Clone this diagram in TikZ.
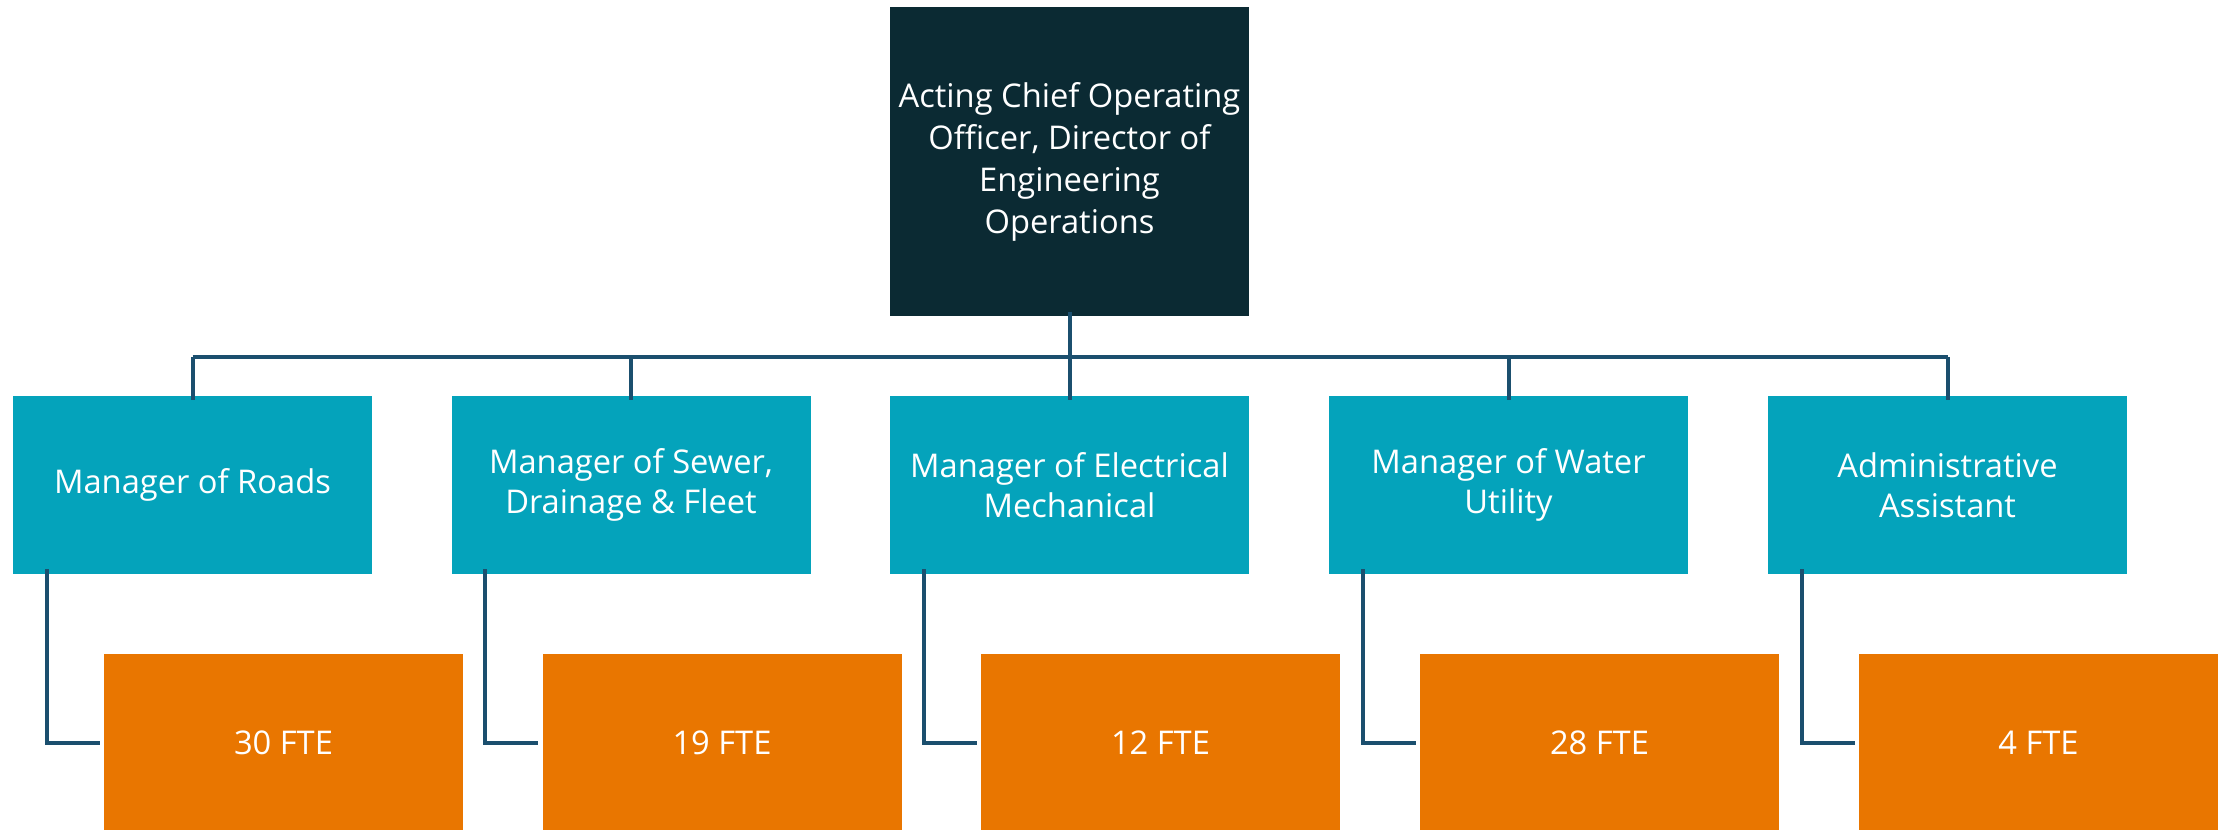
\documentclass[tikz,border=0pt]{standalone}
\usepackage{fontspec}
\setmainfont{Open Sans}
\definecolor{chiefnavy}{HTML}{0B2A33}
\definecolor{mgrteal}{HTML}{04A3BB}
\definecolor{fteorange}{HTML}{E97600}
\definecolor{linkblue}{HTML}{1B4F6E}
\tikzset{
  chief/.style={rectangle, fill=chiefnavy, text=white, inner sep=0pt, align=center,
    minimum width=269.25pt, minimum height=231.75pt, font=\fontsize{24.5}{31.5}\selectfont},
  manager/.style={rectangle, fill=mgrteal, text=white, inner sep=0pt, align=center,
    minimum width=269.25pt, minimum height=133.5pt, font=\fontsize{24.5}{30}\selectfont},
  fte/.style={rectangle, fill=fteorange, text=white, inner sep=0pt, align=center,
    minimum width=269.25pt, minimum height=133.5pt, font=\fontsize{24.5}{30}\selectfont},
  link/.style={draw=linkblue, line width=3pt},
}
\begin{document}
\begin{tikzpicture}[x=0.75pt,y=0.75pt,yscale=-1]
\useasboundingbox (0,0) rectangle (2224,829);

%Shape: Rectangle [chief]
\node[chief] (coo) at (1069.5,161.5) {Acting Chief Operating\\Officer, Director of\\Engineering\\Operations};

%Shape: Rectangle [managers]
\node[manager] (roads) at (192.5,485) {Manager of Roads};
\node[manager] (sewer) at (631,485) {Manager of Sewer,\\Drainage \& Fleet};
\node[manager] (elec) at (1069.5,485) {Manager of Electrical\\Mechanical};
\node[manager] (water) at (1508.5,485) {Manager of Water\\Utility};
\node[manager] (admin) at (1947.5,485) {Administrative\\Assistant};

%Shape: Rectangle [staff]
\node[fte] (roadsfte) at (283.5,743) {30 FTE};
\node[fte] (sewerfte) at (722,743) {19 FTE};
\node[fte] (elecfte) at (1160.5,743) {12 FTE};
\node[fte] (waterfte) at (1599.5,743) {28 FTE};
\node[fte] (adminfte) at (2038.5,743) {4 FTE};

%Straight Lines [bus]
\coordinate (bus) at (1069.5,357);
\draw[link] ([yshift=-3pt]coo.south) -- ([yshift=3pt]elec.north);
\draw[link] (roads.north |- bus) -- (admin.north |- bus);
\draw[link] (roads.north |- bus) -- ([yshift=3pt]roads.north);
\draw[link] (sewer.north |- bus) -- ([yshift=3pt]sewer.north);
\draw[link] (water.north |- bus) -- ([yshift=3pt]water.north);
\draw[link] (admin.north |- bus) -- ([yshift=3pt]admin.north);

%Straight Lines [elbows]
\draw[link, shorten >=3pt] ([xshift=25.5pt,yshift=-3.75pt]roads.south west) |- (roadsfte.west);
\draw[link, shorten >=3pt] ([xshift=25.5pt,yshift=-3.75pt]sewer.south west) |- (sewerfte.west);
\draw[link, shorten >=3pt] ([xshift=25.5pt,yshift=-3.75pt]elec.south west) |- (elecfte.west);
\draw[link, shorten >=3pt] ([xshift=25.5pt,yshift=-3.75pt]water.south west) |- (waterfte.west);
\draw[link, shorten >=3pt] ([xshift=25.5pt,yshift=-3.75pt]admin.south west) |- (adminfte.west);

\end{tikzpicture}
\end{document}
